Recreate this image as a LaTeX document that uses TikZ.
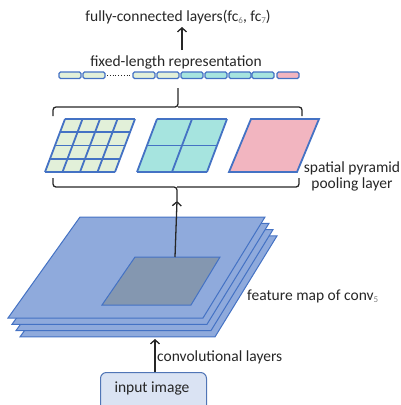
\documentclass[tikz,border=0pt]{standalone}
\usepackage{fontspec}
\setmainfont{Carlito}
\usetikzlibrary{arrows.meta}
\definecolor{edgeblue}{HTML}{4472C4}
\definecolor{layerfill}{HTML}{8FAADC}
\definecolor{innerfill}{HTML}{8497B0}
\definecolor{greenfill}{HTML}{E2F0D9}
\definecolor{cyanfill}{HTML}{A6E4DF}
\definecolor{pinkfill}{HTML}{F2B5C0}
\definecolor{boxfill}{HTML}{DAE3F3}
\definecolor{txt}{HTML}{262626}
\newcommand{\mysub}[1]{{\fontsize{9}{10}\selectfont\raisebox{-2.5pt}{\color{gray}#1}}}
\tikzset{
  lbl/.style={font=\fontsize{15.5}{17}\selectfont, text=txt, inner sep=0pt},
  conn/.style={line width=1.3pt, draw=txt},
  arr/.style={conn, -{Straight Barb[length=4pt,width=9pt,line width=1.3pt]}},
  cell/.style={draw=edgeblue, line width=1.4pt, rounded corners=1.5pt},
  gridline/.style={draw=edgeblue, line width=1.8pt},
  layer/.style={draw=edgeblue, line width=1pt, fill=layerfill},
}
\begin{document}
\begin{tikzpicture}[x=1pt,y=-1pt]
\useasboundingbox (0,0) rectangle (401,405);

% texts
\node[lbl] (fc) at (178,17) {fully-connected layers(fc\mysub{6}, fc\mysub{7})};
\node[lbl] (fixed) at (176,62) {fixed-length representation};

% fixed-length vector
\foreach \i/\x/\c in {1/59/greenfill,2/83/greenfill,3/133/greenfill,4/157/greenfill,5/181/cyanfill,6/205/cyanfill,7/229/cyanfill,8/252/cyanfill,9/277/pinkfill}{
  \path[cell, fill=\c] (\x,72) rectangle ++(22,6.5);
}
\draw[txt, line width=0.8pt, dotted] (107,75.3) -- (131,75.3);
\coordinate (vecbot) at (178,88);
\coordinate (fcbot) at (182,50);
\coordinate (fctop) at (182,27);
\draw[arr] (fcbot) -- (fctop);

% top brace
\coordinate (tb) at (178,107);
\draw[conn, rounded corners=3pt] (53,116) |- (tb) -- (vecbot);
\draw[conn, rounded corners=3pt] (302,116) |- (tb);

% pyramid grids
% 4x4
\path[fill=greenfill] (45,172) -- (115,172) -- (135,119) -- (65,119) -- cycle;
\foreach \k in {0,1,2,3,4}{
  \draw[gridline] ({45+\k*17.5},172) -- ({65+\k*17.5},119);
  \draw[gridline] ({45+20*\k/4},{172-53*\k/4}) -- ({115+20*\k/4},{172-53*\k/4});
}
% 2x2
\path[fill=cyanfill] (137,172) -- (207,172) -- (227,119) -- (157,119) -- cycle;
\foreach \k in {0,1,2}{
  \draw[gridline] ({137+\k*35},172) -- ({157+\k*35},119);
  \draw[gridline] ({137+20*\k/2},{172-53*\k/2}) -- ({207+20*\k/2},{172-53*\k/2});
}
% 1x1
\draw[gridline, fill=pinkfill] (229,172) -- (297,172) -- (319,119) -- (251,119) -- cycle;

\node[lbl, align=center] (spp) at (352,176) {spatial pyramid\\[-1pt]pooling layer};

% bottom brace
\coordinate (bb) at (177,187);
\coordinate (bbtip) at (177,201);
\draw[conn, rounded corners=3pt] (53,178) |- (bb) -- (bbtip);
\draw[conn, rounded corners=3pt] (299,178) |- (bb);

% feature map stack
\foreach \k in {3,2,1,0}{
  \draw[layer] ({8+4*\k},{318+6.3*\k}) -- ({203+4*\k},{318+6.3*\k}) -- ({265+4*\k},{217+6.3*\k}) -- ({80+4*\k},{217+6.3*\k}) -- cycle;
}
\draw[edgeblue, line width=1pt, fill=innerfill] (102,305) -- (191,305) -- (220,257) -- (135,257) -- cycle;
\coordinate (innertop) at (175,257);
\draw[arr] (innertop) -- (bbtip);

\node[lbl, anchor=west] (fmap) at (247,296) {feature map of conv\mysub{5}};

% input image
\node[draw=edgeblue!80!gray, line width=1pt, fill=boxfill, rounded corners=6pt, minimum width=106pt, minimum height=40pt, anchor=north west, inner sep=0pt] (inbox) at (100,372) {};
\node[lbl] (intext) at (152,388) {input image};
\coordinate (stackbot) at (155,339);
\draw[arr] (inbox.north -| stackbot) -- (stackbot);
\node[lbl, anchor=west] (conv) at (157,357) {convolutional layers};
\end{tikzpicture}
\end{document}
